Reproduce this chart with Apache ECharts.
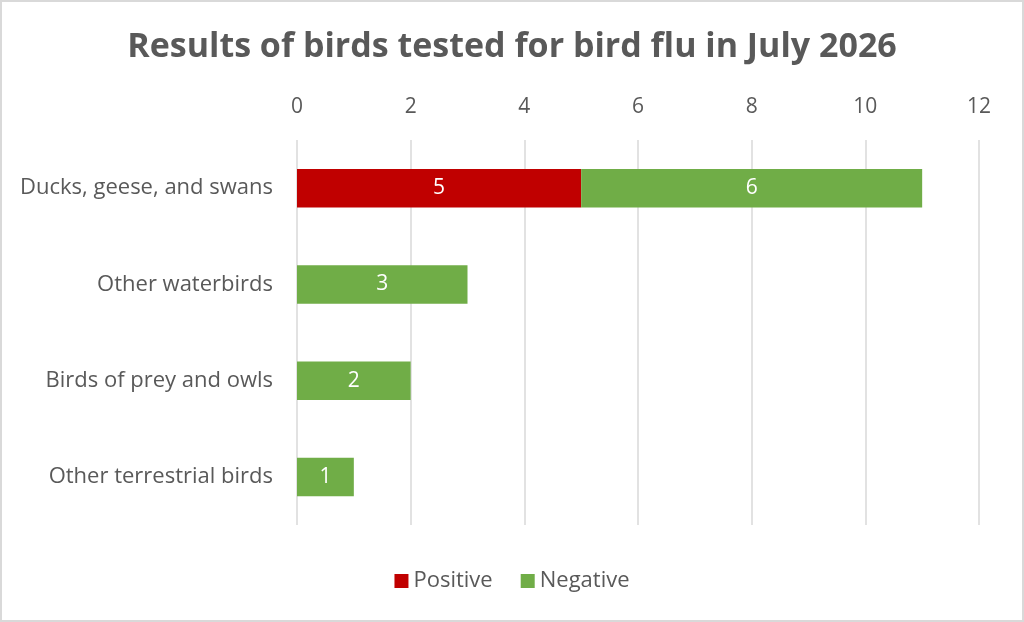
<!DOCTYPE html>
<html>
<head>
<meta charset="utf-8">
<script src="https://cdn.jsdelivr.net/npm/echarts@6/dist/echarts.min.js"></script>
<style>
  html, body { margin: 0; padding: 0; background: #fff; }
  #chart { width: 1020px; height: 618px; border: 2px solid #d9d9d9; background: #fff; }
</style>
</head>
<body>
<div id="chart"></div>
<script>
const categories = ['Ducks, geese, and swans', 'Other waterbirds', 'Birds of prey and owls', 'Other terrestrial birds']
const positive = [5, 0, 0, 0]
const negative = [6, 3, 2, 1]
const xTicks = [0, 2, 4, 6, 8, 10, 12]

var chart = echarts.init(document.getElementById('chart'));
var font = 'Open Sans'
var labelFmt = function (p) { return p.value ? p.value : '' }

var option = {
    color: ['#c00000', '#70ad47'],
    textStyle: { fontFamily: font },
    title: {
        text: 'Results of birds tested for bird flu in July 2026',
        left: 'center',
        top: 23,
        textStyle: { fontFamily: font, fontSize: 34, fontWeight: 'bold', color: '#595959' }
    },
    legend: {
        data: ['Positive', 'Negative'],
        bottom: 23,
        left: 'center',
        icon: 'rect',
        itemWidth: 14,
        itemHeight: 14,
        itemGap: 28,
        textStyle: { fontFamily: font, fontSize: 22, color: '#595959' }
    },
    grid: { left: 295, right: 43, top: 138, bottom: 95, containLabel: false },
    xAxis: {
        type: 'value',
        position: 'top',
        min: xTicks[0],
        max: xTicks[xTicks.length - 1],
        interval: 2,
        axisLine: { show: false },
        axisTick: { show: false },
        axisLabel: { fontFamily: font, fontSize: 21, color: '#595959', margin: 22 },
        splitLine: { lineStyle: { color: '#d9d9d9', width: 1.5 } }
    },
    yAxis: {
        type: 'category',
        inverse: true,
        data: categories,
        axisLine: { show: false },
        axisTick: { show: false },
        axisLabel: { fontFamily: font, fontSize: 22, color: '#595959', margin: 24 }
    },
    series: [{
        name: 'Positive',
        type: 'bar',
        stack: 'total',
        barCategoryGap: '60%',
        data: positive,
        label: { show: true, formatter: labelFmt, color: '#fff', fontFamily: font, fontSize: 21 }
    },
    {
        name: 'Negative',
        type: 'bar',
        stack: 'total',
        barCategoryGap: '60%',
        data: negative,
        label: { show: true, formatter: labelFmt, color: '#fff', fontFamily: font, fontSize: 21 }
    }]
}
chart.setOption(option);
</script>
</body>
</html>
